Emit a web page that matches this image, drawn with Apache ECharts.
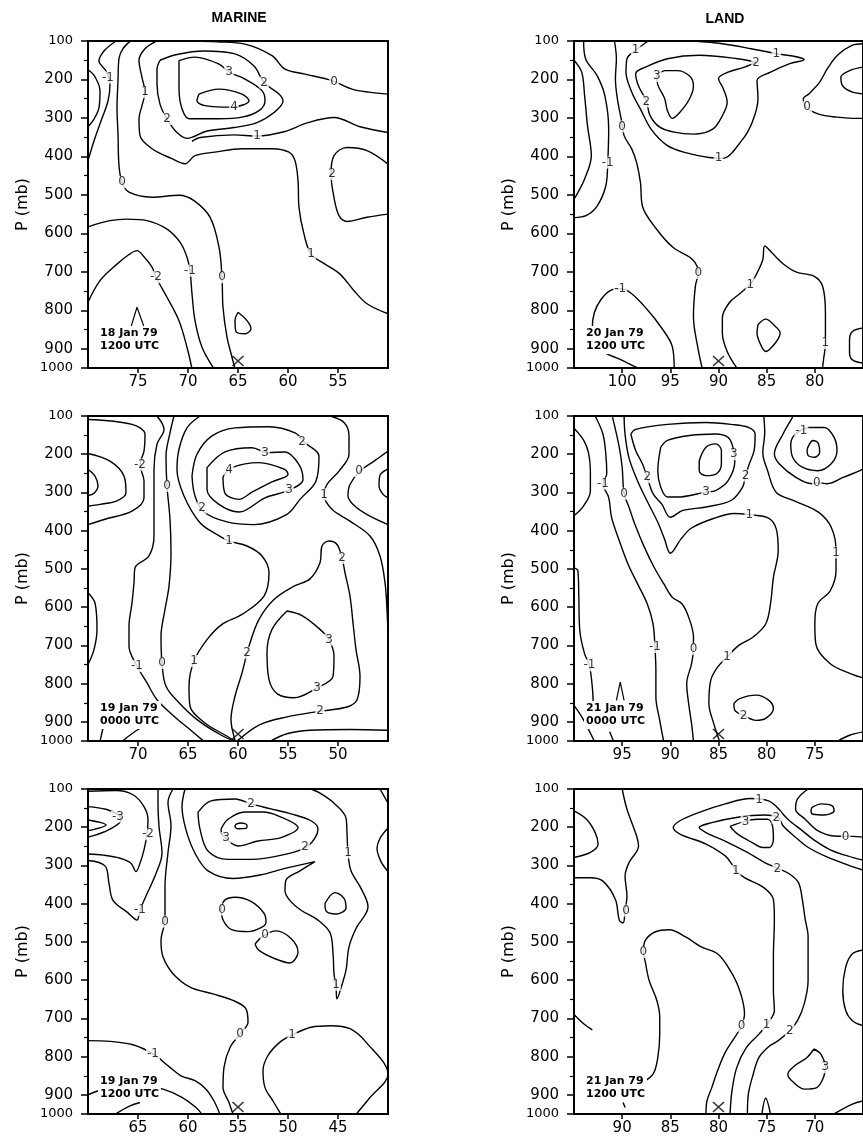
<!DOCTYPE html>
<html><head><meta charset="utf-8">
<script src="https://cdn.jsdelivr.net/npm/echarts@6/dist/echarts.min.js"></script>
<style>html,body{margin:0;padding:0;background:#fff}#c{width:863px;height:1136px}</style>
</head><body><div id="c"></div>
<script>
// ---------- Axis ranges (longitude, deg W; pressure mb) ----------
const lonRanges = [[50,80],[45,75],[40,70],[75,105],[70,100],[65,95]];
const pressureRange = [100, 950];      // bottom of frame is labelled 1000
const stationLon = [65, 60, 55, 90, 85, 80];
const columnTitles = ['MARINE', 'LAND'];
const dateLines = [['18 Jan 79','1200 UTC'],['19 Jan 79','0000 UTC'],['19 Jan 79','1200 UTC'],
                   ['20 Jan 79','1200 UTC'],['21 Jan 79','0000 UTC'],['21 Jan 79','1200 UTC']];

// ---------- Panel 1: MARINE 18 Jan 79 1200 UTC ----------
const m1_a = [[80,174],[79.3,193],[78.8,230],[78.9,273],[79.4,303],[80,323]];
const m1_b = [[77.3,102],[78.4,126],[78.9,152],[78.2,178],[77.8,212],[78.0,256],[78.7,308],[79.4,360],[80,411]];
const m1_c = [[50,238],[51.9,233],[53.6,225],[55.6,203],[58.3,186],[60.3,173],[61.6,138],[64.3,108],[67.1,102],[69.5,100]];
const m1_d = [[75.8,101],[76.5,120],[76.9,145],[77.0,204],[77.1,273],[77.0,342],[76.9,424],[76.6,467],[75.9,493],[73.6,506],[70.9,501],[69.4,515],[67.8,558],[66.9,636],[66.6,714],[66.5,792],[66.1,870],[65.6,922],[65.3,952]];
const m1_e = [[73.2,101],[74.3,120],[74.9,150],[74.6,195],[74.3,233],[74.6,268],[74.9,302],[74.8,346],[73.6,380],[71.6,406],[70.3,419],[69.3,398],[67.3,389],[64.6,380],[61.6,380],[59.9,389],[59.3,411],[59.0,463],[58.9,533],[58.4,602],[57.7,654],[56.3,680],[54.8,706],[53.4,749],[52.1,783],[50,809]];
const m1_f = [[72.8,150],[71.1,135],[68.4,126],[65.4,133],[63.4,165],[62.4,208],[60.9,238],[60.5,256],[61.4,286],[63.1,312],[65.4,325],[68.1,334],[70.1,353],[71.1,338],[72.1,303],[72.8,264],[73.1,212],[73.1,174],[72.8,150]];
const m1_g = [[69.6,361],[68.8,351],[65.4,344],[63.1,347],[60.4,336],[58.1,313],[55.4,299],[52.8,323],[50,338]];
const m1_h = [[70.9,151],[69.3,142],[66.9,160],[65.9,181],[64.3,199],[62.6,229],[62.3,255],[62.9,281],[64.6,298],[66.9,302],[69.9,302],[70.6,276],[70.9,225],[70.9,151]];
const m1_i = [[68.9,238],[66.9,225],[64.6,238],[63.9,255],[65.6,272],[68.3,268],[69.1,255],[68.9,238]];
const m1_j = [[80,583],[77.8,567],[76.1,563],[74.1,567],[72.1,589],[70.8,623],[70.1,662],[69.8,697],[69.6,757],[69.3,827],[68.6,896],[67.4,952]];
const m1_k = [[80,779],[78.8,723],[77.1,680],[75.9,655],[75.1,645],[74.4,661],[73.6,688],[73.2,714],[72.1,766],[70.9,827],[70.1,896],[69.6,952]];
const m1_l = [[65,805],[64.1,827],[63.7,848],[64.3,861],[65.2,855],[65.3,827],[65,805]];
const m1_m = [[50,420],[52.1,385],[54.1,377],[55.4,398],[55.7,446],[55.4,507],[54.9,554],[54.1,569],[52.1,558],[50,550]];
const m1_labels = [[78.0,195,'-1'],[74.3,233,'1'],[72.1,303,'2'],[65.9,181,'3'],[62.4,208,'2'],[65.4,271,'4'],[63.1,346,'1'],[55.4,205,'0'],[76.6,467,'0'],[55.6,446,'2'],[57.7,654,'1'],[73.2,714,'-2'],[69.8,697,'-1'],[66.6,714,'0']];
const m1_caret = [[75.7,843],[75.1,792],[74.4,843]];

// ---------- Panel 2: MARINE 19 Jan 79 0000 UTC ----------
const m2_a = [[75,240],[74.3,257],[74,283],[74.4,302],[75,308]];
const m2_b = [[75,198],[72.8,218],[71.4,257],[71.2,301],[72.1,322],[73.8,331],[75,336]];
const m2_c = [[75,109],[70.6,122],[69.3,148],[69.4,192],[69.8,227],[69.4,270],[69.4,314],[70.6,349],[73.3,370],[75,384]];
const m2_d = [[68.1,100],[67.4,135],[68.1,174],[68.4,240],[68.4,327],[68.4,414],[68.9,466],[70.3,497],[70.4,536],[70.6,589],[70.9,650],[70.9,702],[70.1,754],[69.1,798],[68.1,842],[66.4,885],[64.8,920],[63.4,951]];
const m2_e = [[66.4,100],[66.8,144],[67.2,205],[67.1,283],[66.8,370],[66.7,458],[66.9,545],[67.3,606],[67.7,676],[67.6,746],[67.2,807],[65.9,850],[64.1,894],[61.8,933],[60.3,951]];
const m2_f = [[63.8,100],[65.1,131],[65.9,187],[66.1,240],[65.4,309],[63.8,379],[62.1,410],[60.9,427],[59.1,440],[57.6,466],[56.9,510],[57.4,571],[59.6,619],[61.6,645],[63.1,685],[64.4,741],[64.9,807],[64.8,859],[63.3,903],[61.4,933],[60.2,951]];
const m2_g = [[64.6,257],[64.1,200],[62.6,152],[60.3,131],[56.9,128],[54.3,144],[53.3,170],[51.9,205],[52.2,270],[53.8,318],[55.1,357],[58.4,384],[61.1,377],[63.4,351],[64.3,309],[64.6,257]];
const m2_h = [[63.1,235],[61.3,194],[58.6,183],[57.1,196],[55.3,194],[53.9,227],[53.5,266],[54.9,294],[57.3,314],[59.9,351],[61.9,331],[63.1,292],[63.1,235]];
const m2_i = [[61.5,259],[60.6,235],[57.9,222],[55.3,240],[55.0,253],[56.6,272],[58.6,299],[59.9,318],[61.3,302],[61.5,259]];
const m2_j = [[50.8,100],[49.4,117],[48.9,152],[48.9,200],[49.9,244],[51.1,279],[51.4,305],[50.6,344],[48.8,375],[46.8,414],[45.8,466],[45.3,536],[45.1,606],[45,676]];
const m2_k = [[45,192],[46.4,218],[47.8,244],[48.8,279],[49.0,309],[48.3,336],[46.8,362],[45,384]];
const m2_l = [[45,238],[45.8,255],[45.9,283],[45.5,305],[45,314]];
const m2_m = [[55.1,610],[53.6,622],[51.8,658],[50.9,685],[50.4,728],[50.5,781],[52.1,811],[54.4,837],[56.1,826],[56.9,789],[57.1,719],[56.6,658],[55.1,610]];
const m2_n = [[60,948],[57.8,907],[55.1,887],[51.8,872],[49.1,861],[48.1,842],[47.8,781],[48.2,711],[48.5,641],[48.8,571],[49.3,510],[49.6,471],[50.1,436],[50.9,427],[51.6,440],[51.8,484],[52.8,526],[54.4,545],[56.4,580],[57.9,632],[58.9,702],[59.6,772],[60.3,833],[60.7,894],[60.3,948]];
const m2_o = [[56.8,951],[55.1,931],[52.8,922],[48.8,920],[45,922]];
const m2_p = [[75,562],[74.3,589],[74.1,658],[74.4,711],[75,750]];
const m2_q = [[73.8,951],[73.5,916]];
const m2_r = [[71.6,951],[70.4,927],[69.3,910]];
const m2_labels = [[69.8,227,'-2'],[67.1,283,'0'],[60.9,240,'4'],[57.3,196,'3'],[54.9,294,'3'],[63.6,340,'2'],[53.6,168,'2'],[60.9,427,'1'],[51.4,305,'1'],[47.9,244,'0'],[49.6,471,'2'],[50.9,685,'3'],[52.1,811,'3'],[59.1,719,'2'],[51.8,872,'2'],[64.4,741,'1'],[67.6,746,'0'],[70.1,754,'-1']];

// ---------- Panel 3: MARINE 19 Jan 79 1200 UTC ----------
const m3_a = [[70,146],[68.2,153],[67,167],[66.7,181],[67.8,205],[69.2,220],[70,226]];
const m3_b = [[70,181],[68.2,194],[70,209]];
const m3_c = [[70,106],[67.2,104],[65.5,115],[64.4,146],[64.0,181],[64.1,218],[64.4,259],[64.8,294],[65.2,316],[65.7,294],[66.8,281],[68.5,273],[70,270]];
const m3_d = [[63.0,100],[63.0,137],[62.9,198],[62.6,268],[63.2,321],[64.2,380],[64.8,417],[65.1,443],[66,424],[67.5,391],[67.9,347],[68.3,301],[70,287]];
const m3_e = [[61.5,100],[62,135],[61.7,196],[62,266],[62.3,354],[62.3,441],[62.7,496],[62.5,539],[61.5,583],[59.8,618],[57.5,636],[55.5,653],[54.2,675],[54,710],[54.8,741],[55.8,776],[56.4,828],[56.5,881],[55.9,920],[55.5,951]];
const m3_f = [[60.3,100],[60.6,146],[60.2,207],[59.3,268],[58,314],[55.5,334],[52.8,325],[50.2,307],[47.3,290],[48.8,314],[50.2,338],[50.3,366],[49.8,392],[48.7,417],[47,443],[45.8,476],[45.5,529],[45.4,583],[45.2,618],[45.1,649],[44.7,620],[44.2,574],[43.9,513],[43.2,465],[42,408],[42.7,360],[43.7,314],[44,266],[44.1,216],[44.2,176],[45.4,137],[46.8,111],[47.7,100]];
const m3_g = [[59,161],[57.7,131],[55.3,126],[53.7,139],[51.7,152],[49.7,165],[47.7,183],[47,205],[48,249],[50.3,271],[53.7,284],[56,284],[58,262],[58.8,205],[59,161]];
const m3_h = [[56.7,205],[56,179],[54.3,160],[52.5,160],[51,170],[49,201],[50.7,227],[53,236],[55,249],[56.5,223],[56.7,205]];
const m3_i = [[55.2,192],[54.7,189],[54.1,195],[54.2,203],[55,204],[55.3,198],[55.2,192]];
const m3_j = [[56.7,412],[56.3,390],[55.3,383],[53.7,394],[52.4,425],[52.2,449],[52.8,464],[54,473],[55.7,467],[56.5,442],[56.7,412]];
const m3_k = [[53.3,506],[52.5,485],[51.2,471],[49.7,491],[49,526],[49.8,555],[51.3,544],[52.9,522],[53.3,506]];
const m3_l = [[46.3,399],[45.3,371],[44.4,386],[44.2,411],[45.2,427],[46.2,419],[46.3,399]];
const m3_m = [[40,202],[40.8,229],[41.1,255],[40.7,290],[40,316]];
const m3_n = [[40.8,100],[40,137]];
const m3_o = [[50.7,951],[51.5,916],[52.3,881],[52.5,837],[52,797],[50.8,762],[49.5,742],[47.7,723],[45.7,719],[43.8,727],[42.2,762],[40,846],[41.8,907],[43.2,951]];
const m3_p = [[70,758],[67.8,760],[65.5,769],[63.5,793],[61.8,828],[60.7,850],[59.3,863],[58.2,885],[57.4,916],[56.8,951]];
const m3_q = [[70,900],[68.8,888],[66.8,879],[64.5,876],[62.5,885],[60.7,905],[59.2,933],[58.6,951]];
const m3_r = [[67.3,951],[65.8,929],[64.8,920]];
const m3_labels = [[67.0,172,'-3'],[64.0,218,'-2'],[64.8,417,'-1'],[62.3,447,'0'],[53.7,139,'2'],[56.2,228,'3'],[48.3,252,'2'],[44,266,'1'],[56.6,415,'0'],[52.3,482,'0'],[45.2,612,'1'],[54.8,741,'0'],[49.6,743,'1'],[63.5,793,'-1']];

// ---------- Panel 4: LAND 20 Jan 79 1200 UTC ----------
const l1_a = [[105,150],[104.2,181],[103.9,242],[103.6,320],[103.2,398],[103.9,459],[104.6,494],[105,511]];
const l1_b = [[104,100],[103.8,146],[102.6,190],[101.8,242],[101.4,329],[101.5,416],[101.7,477],[102.6,529],[103.7,553],[105,559]];
const l1_c = [[100.8,100],[100.6,146],[100.7,198],[100.5,250],[100.1,303],[99.8,346],[99,381],[98.5,416],[98.1,468],[97.9,529],[96.4,590],[94.7,637],[92.7,668],[92.1,703],[92.4,737],[92.6,816],[92.1,903],[91.7,950]];
const l1_d = [[97.3,100],[98.6,124],[99.5,146],[99.6,181],[99,233],[98.1,277],[97,329],[95.3,372],[93.3,391],[91,403],[89.6,405],[87.6,359],[86.5,311],[85.9,250],[86,203],[84.6,181],[82.6,159],[81.1,148],[82.3,139],[84,133],[86.6,120],[89.6,107],[92.6,100]];
const l1_e = [[86.1,155],[88,146],[92,137],[95.3,146],[97.6,168],[98.6,185],[98.3,217],[97.5,255],[97.1,294],[96.1,324],[94.6,337],[92.6,342],[90.6,329],[89.6,294],[89.1,259],[89.5,224],[90,198],[89,181],[87.3,168],[86.1,155]];
const l1_f = [[95.6,177],[94.3,177],[93,191],[92.6,217],[93,250],[94,285],[94.8,301],[95.3,281],[95.6,249],[96.3,214],[96.4,191],[95.6,177]];
const l1_g = [[75,107],[76.1,111],[77.6,136],[78.7,172],[79.5,207],[80.6,237],[81.2,250],[80.9,272],[79.6,290],[77.7,298],[76.1,301],[75,301]];
const l1_h = [[75,168],[76.4,177],[77.3,194],[77.1,217],[76.1,233],[75,237]];
const l1_i = [[94.6,950],[94.8,894],[95.9,846],[97.4,798],[99.1,755],[100.2,744],[101.2,748],[102.2,772],[102.9,807],[103.1,846],[102.1,903],[100.1,929],[98.4,950]];
const l1_j = [[88.1,950],[89.1,907],[89.6,859],[89.6,820],[88.9,781],[87.7,755],[86.6,729],[85.9,698],[85.4,668],[85.2,633],[84.4,652],[83.2,681],[81.9,701],[80.1,711],[79.2,737],[78.9,807],[78.9,885],[79.1,929],[79.2,950]];
const l1_k = [[85.9,837],[85.1,823],[84.1,842],[83.6,859],[84.1,885],[85.1,907],[85.7,885],[86,859],[85.9,837]];
const l1_l = [[75,846],[76.1,855],[76.4,877],[76.4,911],[76.1,929],[75,937]];
const l1_labels = [[98.6,124,'1'],[97.5,257,'2'],[96.4,191,'3'],[86.1,156,'2'],[84,133,'1'],[100,322,'0'],[101.5,416,'-1'],[90,405,'1'],[80.8,272,'0'],[92.1,703,'0'],[100.2,744,'-1'],[86.7,733,'1'],[78.9,885,'1']];

// ---------- Panel 5: LAND 21 Jan 79 0000 UTC ----------
const l2_a = [[100,132],[99,163],[98.5,196],[98.3,243],[98.3,296],[99,335],[100,361]];
const l2_b = [[97.8,100],[97,147],[96.7,199],[96.6,251],[97,277],[96.4,313],[96.1,365],[95.3,426],[94.4,487],[93.4,539],[92.4,591],[91.8,643],[91.6,704],[91.5,765],[91.5,835],[91.1,896],[90.7,950]];
const l2_c = [[100,497],[99.6,504],[99.5,574],[99.4,661],[98.9,722],[98.4,752],[98.1,809],[98,852]];
const l2_d = [[100,857],[99.1,891],[97.9,950]];
const l2_e = [[96.3,926],[95.9,950]];
const l2_f = [[96,103],[95.3,182],[95,234],[94.8,303],[94.3,338],[93.7,382],[92.7,443],[91.7,495],[90.7,538],[89.8,574],[88.8,591],[88.1,626],[87.6,678],[87.6,709],[87.8,748],[88.3,800],[88.1,852],[87.8,904],[87.6,950]];
const l2_g = [[94.8,100],[94.7,148],[94.3,209],[93.4,270],[92.4,323],[91.3,378],[90.6,422],[90,459],[88.9,422],[87.8,393],[85.4,367],[83.4,355],[81.8,358],[79.8,367],[79,396],[78.8,452],[79.3,522],[79.6,591],[80.1,644],[81.4,678],[82.9,700],[84.1,730],[85.1,757],[85.8,791],[86,852],[85.5,904],[84.9,950]];
const l2_h = [[80.3,100],[80.2,143],[80.4,196],[79.9,243],[79,300],[77,323],[74.6,352],[73.3,391],[72.8,452],[72.8,504],[73.4,557],[74.7,591],[75,643],[74.9,696],[73.4,748],[71.1,776],[70,785]];
const l2_i = [[94.1,147],[93.6,135],[90.3,122],[86.3,117],[83.7,122],[81.9,130],[81.2,148],[81.3,190],[81.8,225],[82.2,256],[82.5,286],[83.7,321],[86.3,338],[88.7,347],[90,365],[90.9,330],[91.8,303],[92.4,260],[92.9,225],[93.6,190],[94.1,147]];
const l2_j = [[91,182],[90.3,164],[88,151],[85.3,147],[84,156],[83.5,182],[83.3,217],[84,269],[85.3,295],[86.3,299],[89.3,312],[90.3,312],[91,286],[91.3,243],[91,182]];
const l2_k = [[87,217],[86.3,182],[85.3,173],[84.7,190],[84.7,225],[85.2,251],[86.3,256],[87,243],[87,217]];
const l2_l = [[77.3,103],[78.3,147],[79.2,199],[78.7,225],[77,260],[75.3,277],[74.8,274],[73.7,277],[72,260],[71.1,251],[70,239]];
const l2_m = [[75.7,130],[77,147],[77.5,173],[77.3,208],[76.3,234],[74.7,243],[73.3,225],[72.7,190],[73,156],[74,130],[75.7,130]];
const l2_n = [[75.3,164],[74.7,169],[74.5,195],[75,208],[75.7,203],[75.8,190],[75.3,164]];
const l2_o = [[83.4,852],[82.8,839],[81.1,830],[79.8,843],[79.3,865],[80.1,891],[81.1,896],[82.4,883],[83.3,870],[83.4,852]];
const l2_p = [[72.6,950],[71.4,935],[70,926]];
const l2_labels = [[97,277,'-1'],[94.8,303,'0'],[92.4,260,'2'],[86.3,299,'3'],[83.4,200,'3'],[82.2,256,'2'],[76.4,138,'-1'],[74.8,274,'0'],[81.8,358,'1'],[72.8,457,'1'],[91.6,704,'-1'],[87.6,709,'0'],[84.1,730,'1'],[82.4,883,'2'],[98.4,752,'-1']];
const l2_caret = [[95.6,844],[95.2,796],[94.8,844]];

// ---------- Panel 6: LAND 21 Jan 79 1200 UTC ----------
const l3_a = [[95,157],[93.7,179],[92.8,214],[92.5,244],[93.3,266],[95,279]];
const l3_b = [[90,100],[89.5,153],[88.5,223],[88.3,249],[89.3,293],[89.7,328],[89.5,380],[89.7,419],[89.9,450],[90.3,443],[90.7,389],[92,341],[93.3,332],[95,332]];
const l3_c = [[89.4,900],[88.1,872],[86.8,846],[86.3,802],[86.1,741],[86.1,697],[86.4,653],[87.2,601],[87.6,552],[87.8,526],[87.6,496],[86.6,474],[85.1,468],[83.4,487],[81.8,513],[80.1,531],[78.8,574],[77.8,627],[77.3,688],[77.6,719],[78.3,749],[79.3,789],[80.1,837],[80.7,881],[81.2,916],[81.3,951]];
const l3_d = [[95,690],[94,714],[93.1,730]];
const l3_e = [[89.9,920],[89.7,933]];
const l3_f = [[65,286],[66.1,279],[68.4,259],[70.1,233],[71.4,207],[72.8,179],[74,146],[74.8,131],[76.7,125],[79.3,139],[82,161],[84,183],[84.7,201],[84,218],[81.3,244],[79.3,275],[78.5,301],[78.2,314],[77.3,332],[75.3,358],[74.3,389],[74.2,441],[74.3,538],[74.3,627],[74.2,679],[74.8,710],[75.8,741],[77.1,776],[78.1,828],[78.6,889],[78.8,951]];
const l3_g = [[65,312],[66.1,303],[68.8,277],[70.8,251],[72.1,224],[73.3,196],[73.8,174],[75.3,168],[78,174],[80.7,188],[82,201],[81.3,214],[79,240],[77,266],[75.3,291],[74,306],[72.7,321],[71.7,345],[71.3,389],[71,441],[70.7,485],[70.7,539],[70.7,601],[71.1,662],[71.8,706],[72.6,732],[73.8,758],[74.8,774],[75.8,802],[76.4,846],[76.9,898],[77,951]];
const l3_h = [[78.8,198],[77.7,188],[76,179],[74.9,179],[74.4,196],[74.3,231],[74.7,253],[75.4,253],[76.5,240],[78,218],[78.8,198]];
const l3_i = [[70.7,100],[71.8,126],[72,153],[71,179],[69.7,209],[68,223],[66.1,224],[65,226]];
const l3_j = [[70.3,148],[69.3,139],[68.2,144],[68,157],[69,168],[70.2,166],[70.4,157],[70.3,148]];
const l3_k = [[70.1,780],[69.4,793],[68.9,828],[69.1,854],[69.8,881],[71.1,885],[72.4,863],[72.8,846],[72.1,824],[70.8,802],[70.1,780]];
const l3_l = [[65,521],[66.1,531],[66.8,566],[67.1,627],[66.8,679],[66.1,706],[65,719]];
const l3_m = [[75.5,951],[75.1,909],[74.6,951]];
const l3_n = [[68.1,951],[66.1,924],[65,916]];
const l3_labels = [[75.8,128,'1'],[74.0,175,'2'],[77.2,185,'3'],[78.2,314,'1'],[73.9,308,'2'],[66.8,224,'0'],[89.6,418,'0'],[87.8,526,'0'],[77.6,719,'0'],[75.0,716,'1'],[72.6,732,'2'],[68.9,828,'3']];

// ---------- Assemble ----------
const panelContours = [
  [m1_a,m1_b,m1_c,m1_d,m1_e,m1_f,m1_g,m1_h,m1_i,m1_j,m1_k,m1_l,m1_m],
  [m2_a,m2_b,m2_c,m2_d,m2_e,m2_f,m2_g,m2_h,m2_i,m2_j,m2_k,m2_l,m2_m,m2_n,m2_o,m2_p,m2_q,m2_r],
  [m3_a,m3_b,m3_c,m3_d,m3_e,m3_f,m3_g,m3_h,m3_i,m3_j,m3_k,m3_l,m3_m,m3_n,m3_o,m3_p,m3_q,m3_r],
  [l1_a,l1_b,l1_c,l1_d,l1_e,l1_f,l1_g,l1_h,l1_i,l1_j,l1_k,l1_l],
  [l2_a,l2_b,l2_c,l2_d,l2_e,l2_f,l2_g,l2_h,l2_i,l2_j,l2_k,l2_l,l2_m,l2_n,l2_o,l2_p],
  [l3_a,l3_b,l3_c,l3_d,l3_e,l3_f,l3_g,l3_h,l3_i,l3_j,l3_k,l3_l,l3_m,l3_n]
];
const panelLabels = [m1_labels, m2_labels, m3_labels, l1_labels, l2_labels, l3_labels];
const panelCarets = [m1_caret, null, null, null, l2_caret, null];

const COL_LEFT = [88, 574];
const ROW_TOP = [41, 416, 789];
const ROW_H = [327, 325, 326];
const PLOT_W = 300;
const FONT = 'DejaVu Sans';

const grids = [], xAxes = [], yAxes = [], series = [], titles = [];
for (let i = 0; i < 6; i++) {
  const col = i < 3 ? 0 : 1, row = i % 3;
  grids.push({left: COL_LEFT[col], top: ROW_TOP[row], width: PLOT_W, height: ROW_H[row],
    show: true, borderColor: '#000', borderWidth: 2, backgroundColor: 'transparent'});
  xAxes.push({gridIndex: i, type: 'value', min: lonRanges[i][0], max: lonRanges[i][1], interval: 5, inverse: true,
    axisLine: {lineStyle: {color: '#000', width: 2}},
    axisTick: {length: 5, lineStyle: {color: '#000', width: 1.5}},
    axisLabel: {showMinLabel: false, showMaxLabel: false, color: '#000', fontSize: 15, fontFamily: FONT, margin: 7},
    splitLine: {show: false}});
  yAxes.push({gridIndex: i, type: 'value', min: pressureRange[0], max: pressureRange[1], interval: 100, inverse: true,
    name: 'P (mb)', nameLocation: 'middle', nameGap: 57, nameRotate: 90,
    nameTextStyle: {fontSize: 16, fontFamily: FONT, color: '#000'},
    axisLine: {lineStyle: {color: '#000', width: 2}},
    axisTick: {length: 7, lineStyle: {color: '#000', width: 1.5}},
    minorTick: {show: true, splitNumber: 2, length: 4, lineStyle: {color: '#000', width: 1.2}},
    axisLabel: {showMinLabel: true, showMaxLabel: true, color: '#000', fontSize: 15, fontFamily: FONT, margin: 15,
      formatter: v => v === pressureRange[1] ? '{s|1000}' : (v === 100 ? '{s|100}' : String(v)),
      rich: {s: {fontSize: 13, fontFamily: FONT, color: '#000'}}},
    splitLine: {show: false}});
  panelContours[i].forEach(c => series.push({type: 'line', xAxisIndex: i, yAxisIndex: i, data: c,
    showSymbol: false, symbol: 'none', smooth: 0.35, silent: true, z: 2,
    lineStyle: {color: '#000', width: 1.4}}));
  if (panelCarets[i]) series.push({type: 'line', xAxisIndex: i, yAxisIndex: i, data: panelCarets[i],
    showSymbol: false, symbol: 'none', smooth: false, silent: true, z: 3, lineStyle: {color: '#000', width: 1.2}});
  series.push({type: 'scatter', xAxisIndex: i, yAxisIndex: i, silent: true, z: 6,
    data: panelLabels[i].map(l => ({value: [l[0], l[1]], name: l[2]})),
    symbolSize: 1, itemStyle: {color: 'rgba(0,0,0,0)'},
    label: {show: true, position: 'inside', formatter: '{b}', color: '#000', fontSize: 12, fontFamily: FONT,
      backgroundColor: '#fff', padding: [0, 1]}});
  series.push({type: 'scatter', xAxisIndex: i, yAxisIndex: i, silent: true, z: 7,
    data: [[stationLon[i], 932]],
    symbol: 'path://M0,0L10,10M10,0L0,10', symbolSize: [11, 10],
    itemStyle: {color: 'rgba(0,0,0,0)', borderColor: '#000', borderWidth: 1.5}});
  titles.push({text: dateLines[i][0] + '\n' + dateLines[i][1], left: COL_LEFT[col] + 10, top: ROW_TOP[row] + 285,
    padding: [1, 2], backgroundColor: '#fff',
    textStyle: {fontSize: 11, fontWeight: 'bold', fontFamily: FONT, color: '#000', lineHeight: 13}});
}

const chart = echarts.init(document.getElementById('c'), null, {renderer: 'canvas'});
chart.setOption({
  animation: false,
  backgroundColor: '#fff',
  title: titles,
  grid: grids, xAxis: xAxes, yAxis: yAxes, series: series,
  graphic: [
    {type: 'text', x: 239, y: 18, style: {text: columnTitles[0], textAlign: 'center', textVerticalAlign: 'middle',
      font: 'bold 14px "Liberation Sans"', fill: '#000'}},
    {type: 'text', x: 725, y: 19, style: {text: columnTitles[1], textAlign: 'center', textVerticalAlign: 'middle',
      font: 'bold 14px "Liberation Sans"', fill: '#000'}}
  ]
});
</script></body></html>
